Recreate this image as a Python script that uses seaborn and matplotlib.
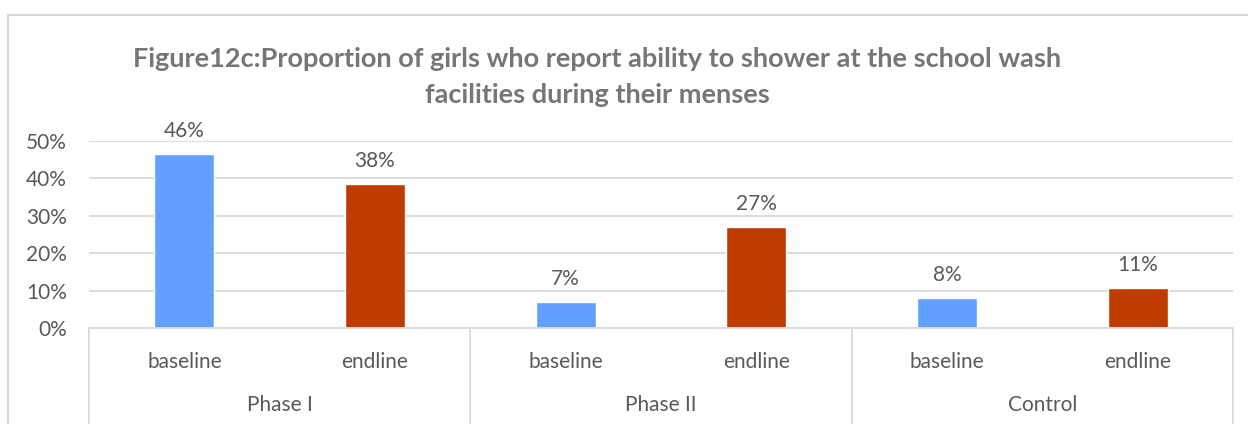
import matplotlib
matplotlib.use("Agg")
import matplotlib.pyplot as plt
from matplotlib.lines import Line2D
import matplotlib.transforms as mtransforms
import seaborn as sns
import pandas as pd

groups = ["Phase I", "Phase I", "Phase II", "Phase II", "Control", "Control"]
periods = ["baseline", "endline", "baseline", "endline", "baseline", "endline"]
values = [0.464, 0.384, 0.069, 0.269, 0.079, 0.106]
group_names = ["Phase I", "Phase II", "Control"]
yticks = [0, 0.1, 0.2, 0.3, 0.4, 0.5]
title = "Figure12c:Proportion of girls who report ability to shower at the school wash\nfacilities during their menses"

df = pd.DataFrame({"group": groups, "period": periods, "value": values})
df["key"] = df["group"] + "|" + df["period"]

sns.set_theme(style="white")
plt.rcParams["font.family"] = ["Lato", "DejaVu Sans"]

TXT = "#595959"
GRID = "#D9D9D9"
FS = 15
palette = {"baseline": "#62A0FF", "endline": "#BF3C00"}

fig = plt.figure(figsize=(12.48, 4.24), dpi=100)
W, H = 1248, 424
ax = fig.add_axes([89 / W, (H - 328) / H, (1233 - 89) / W, (328 - 141) / H])

sns.barplot(data=df, x="key", y="value", hue="period", palette=palette,
            dodge=False, width=0.315, ax=ax, legend=False, saturation=1)

ax.set_xlim(-0.5, len(df) - 0.5)
ax.set_ylim(0, 0.5)
ax.set_yticks(yticks)
ax.set_yticklabels([f"{t:.0%}" for t in yticks], fontsize=FS, color=TXT)
ax.tick_params(axis="y", length=0, pad=16)
ax.set_xticks([])
ax.set_xlabel("")
ax.set_ylabel("")
ax.yaxis.grid(True, color=GRID, linewidth=1.3)
ax.set_axisbelow(True)
for s in ["top", "right", "left"]:
    ax.spines[s].set_visible(False)
ax.spines["bottom"].set_color(GRID)
ax.spines["bottom"].set_linewidth(1.3)

# data labels
for i, v in enumerate(df["value"]):
    ax.annotate(f"{v:.0%}", (i, v), xytext=(0, 17), textcoords="offset points",
                ha="center", va="center", fontsize=FS, color=TXT)

# multi-level category axis
trans = mtransforms.blended_transform_factory(ax.transData, ax.transAxes)
for i, p in enumerate(df["period"]):
    ax.text(i, -0.182, p, transform=trans, ha="center", va="center", fontsize=FS, color=TXT)
for g_i, g in enumerate(group_names):
    ax.text(2 * g_i + 0.5, -0.412, g, transform=trans, ha="center", va="center", fontsize=FS, color=TXT)
for xb in [-0.5, 1.5, 3.5, 5.5]:
    ax.plot([xb, xb], [0, -0.6], transform=trans, color=GRID, linewidth=1.3, clip_on=False)

# title
fig.text(597 / W, 1 - 77 / H, title, ha="center", va="center", fontsize=19.5,
         fontweight="bold", color="#767676", linespacing=1.6)

# chart frame (top and left visible)
fig.add_artist(Line2D([8 / W, 8 / W], [0, 1 - 15 / H], color=GRID, linewidth=1.5))
fig.add_artist(Line2D([8 / W, 1], [1 - 15 / H, 1 - 15 / H], color=GRID, linewidth=1.5))

fig.savefig("out.png", dpi=100)
